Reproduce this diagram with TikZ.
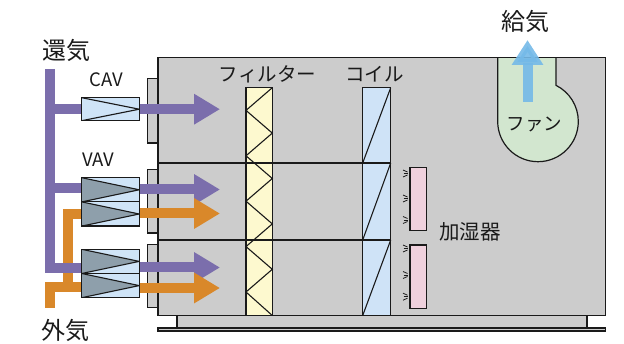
\documentclass[tikz,border=0pt]{standalone}
\usepackage{fontspec}
\setmainfont{Noto Sans CJK JP}
\usetikzlibrary{arrows.meta}

\definecolor{casing}{HTML}{CCCCCC}
\definecolor{ink}{HTML}{1A1A1A}
\definecolor{retair}{HTML}{7B6EAC}
\definecolor{outair}{HTML}{D9882A}
\definecolor{dlight}{HTML}{CFE4F7}
\definecolor{ddark}{HTML}{8E9FAB}
\definecolor{filterfill}{HTML}{FDF9CF}
\definecolor{coilfill}{HTML}{CFE3F7}
\definecolor{humfill}{HTML}{EFD1DD}
\definecolor{fanfill}{HTML}{D2E6CF}
\definecolor{supply}{HTML}{74B9E8}

\tikzset{
  part/.style={draw=ink, line width=1.2pt},
  cavbox/.style={part, fill=dlight, minimum width=57.5pt, minimum height=23pt, inner sep=0pt,
    path picture={\draw[ink, line width=1.1pt]
      (path picture bounding box.north west) -- (path picture bounding box.east)
      -- (path picture bounding box.south west);}},
  vavhalf/.style={part, fill=dlight, minimum width=57.5pt, minimum height=24.2pt, inner sep=0pt,
    path picture={\fill[ddark]
      (path picture bounding box.north west) -- (path picture bounding box.east)
      -- (path picture bounding box.south west) -- cycle;
      \draw[ink, line width=1.1pt]
      (path picture bounding box.north west) -- (path picture bounding box.east)
      -- (path picture bounding box.south west);}},
  duct/.style={line width=10pt, line join=miter, line cap=butt},
  flow/.style={duct, -{Triangle[length=26pt, width=29pt]}},
  biglabel/.style={font=\fontsize{24}{24}\selectfont, inner sep=0pt, text=ink},
  partlabel/.style={font=\fontsize{19.5}{20}\selectfont, inner sep=0pt, text=ink},
  latlabel/.style={font=\fontsize{18.5}{19}\selectfont, inner sep=0pt, text=ink},
  spray/.style={ink, line width=0.8pt},
}

% small steam jet mark beside a humidifier panel
\newcommand\spraymark[1]{%
  \draw[spray] (403,#1-3.5) -- (407.5,#1-1.5);
  \draw[spray] (403.5,#1) -- (408,#1);
  \draw[spray] (403,#1+3.5) -- (407.5,#1+1.5);}

\begin{document}
\begin{tikzpicture}[x=1pt, y=-1pt]
\useasboundingbox (0,0) rectangle (624,344);

% base frame under the unit
\draw[part, fill=casing] (158,328) rectangle (605.5,331);
\draw[part, fill=casing] (177,315.5) rectangle (587,328);

% duct flanges on the inlet side
\draw[part, fill=casing] (147.3,78.5) rectangle (158,143);
\draw[part, fill=casing] (147.3,169.5) rectangle (158,233);
\draw[part, fill=casing] (147.3,244.5) rectangle (158,307.5);

% casing body
\fill[casing] (158,57.5) rectangle (605.5,315.5);

% supply fan
\filldraw[fill=fanfill, draw=ink, line width=1.2pt]
  (497.7,57.5) -- (497.7,121.4) arc[start angle=180, end angle=-63.47, radius=40.3]
  -- (556,57.5);

% filter with pleats
\draw[part, fill=filterfill] (246,87.7) rectangle (272.3,315.5);
\draw[ink, line width=1.1pt] (272.3,87.7)
  -- (246,110.4) -- (272.3,133.1) -- (246,155.8) -- (272.3,178.5) -- (246,201.2)
  -- (272.3,223.9) -- (246,246.6) -- (272.3,269.3) -- (246,292) -- (272.3,315.5);

% cooling coil
\draw[part, fill=coilfill] (362.7,87.7) rectangle (390.7,315.5);
\draw[ink, line width=1.1pt] (390.7,87.7) -- (362.7,163);
\draw[ink, line width=1.1pt] (390.7,163) -- (362.7,240);
\draw[ink, line width=1.1pt] (390.7,240) -- (362.7,315.5);

% section dividers
\draw[ink, line width=1.2pt] (158,163) -- (390.7,163);
\draw[ink, line width=1.2pt] (158,240) -- (390.7,240);

% casing outline
\draw[part] (158,57.5) rectangle (605.5,315.5);

% humidifiers
\draw[part, fill=humfill] (410,167.3) rectangle (426.7,230.7);
\draw[part, fill=humfill] (410,245) rectangle (426.7,308.3);
\spraymark{173.5}\spraymark{198.5}\spraymark{220}
\spraymark{248.5}\spraymark{275}\spraymark{296.7}

% dampers
\node[cavbox] (cav) at (110.5,109.2) {};
\node[vavhalf] (vav1r) at (110.5,189.8) {};
\node[vavhalf] (vav1o) at (110.5,214) {};
\node[vavhalf] (vav2r) at (110.5,261.4) {};
\node[vavhalf] (vav2o) at (110.5,285.6) {};

% duct junction points
\coordinate (raTop) at (50,69);
\coordinate (raCav) at (50,109.2);
\coordinate (raV1) at (50,188.3);
\coordinate (raV2) at (50,268);
\coordinate (oaBot) at (50,308);
\coordinate (oaV2) at (50,286.7);
\coordinate (oaRise) at (68.3,286.7);
\coordinate (oaV1) at (68.3,214.3);

% outside air ducts
\draw[duct, outair] (oaBot) -- (oaV2) -- (vav2o.west |- oaV2);
\draw[duct, outair] (oaRise) -- (oaV1) -- (vav1o.west |- oaV1);

% return air ducts
\draw[duct, retair] (raTop) -- (raV2) -- (vav2r.west |- raV2);
\draw[duct, retair] (raCav) -- (cav.west);
\draw[duct, retair] (raV1) -- (vav1r.west |- raV1);

% air flow into the unit
\coordinate (tipCav) at (220,109.2);
\coordinate (tipV1r) at (220,189.5);
\coordinate (tipV1o) at (220,213.5);
\coordinate (tipV2r) at (220,267.5);
\coordinate (tipV2o) at (220,288);
\draw[flow, retair] (cav.east) -- (tipCav);
\draw[flow, retair] (vav1r.east |- tipV1r) -- (tipV1r);
\draw[flow, outair] (vav1o.east |- tipV1o) -- (tipV1o);
\draw[flow, retair] (vav2r.east |- tipV2r) -- (tipV2r);
\draw[flow, outair] (vav2o.east |- tipV2o) -- (tipV2o);

% supply air leaving the fan
\coordinate (saBase) at (527.5,101.7);
\coordinate (saTip) at (527.5,40);
\draw[line width=10pt, supply, opacity=0.9, -{Triangle[length=25pt, width=30pt]}] (saBase) -- (saTip);

% labels
\node[biglabel] (lRet) at (66,50) {還気};
\node[biglabel] (lOut) at (65,330) {外気};
\node[biglabel] (lSup) at (525,21.5) {給気};
\node[latlabel] (lCav) at (106.7,80) {CAV};
\node[latlabel] (lVav) at (98,160) {VAV};
\node[partlabel] (lFil) at (267.5,74.5) {フィルター};
\node[partlabel] (lCoil) at (374.5,74.5) {コイル};
\node[partlabel, font=\fontsize{20.5}{21}\selectfont] (lHum) at (470,231.7) {加湿器};
\node[partlabel, font=\fontsize{18.5}{19}\selectfont] (lFan) at (534.5,124) {ファン};
\end{tikzpicture}
\end{document}
